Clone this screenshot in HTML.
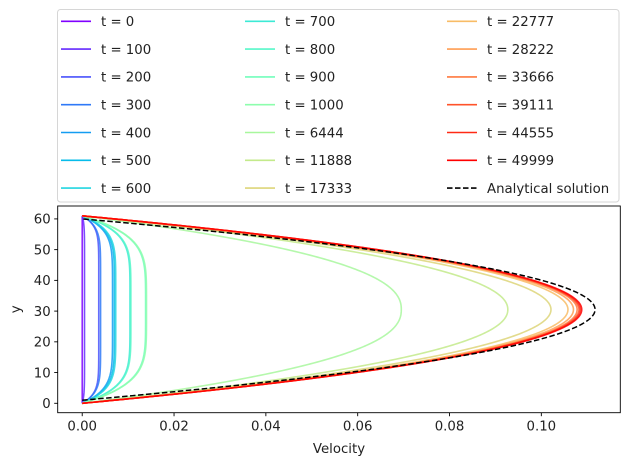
<!DOCTYPE html>
<html><head><meta charset="utf-8"><style>
body{margin:0;background:#fff}
svg{display:block;font-family:"DejaVu Sans","Liberation Sans",sans-serif}
</style></head><body>
<svg id="c" width="630" height="466" viewBox="0 0 630 466" xmlns="http://www.w3.org/2000/svg">
<rect x="0" y="0" width="630" height="466" fill="#fff"/>
<g id="plot"></g>
<g id="axes"></g>
<g id="legend"></g>
</svg>
<script>
const times = [0,100,200,300,400,500,600,700,800,900,1000,6444,11888,17333,22777,28222,33666,39111,44555,49999];
const peakVelocity = [0,0.0005,0.0036,0.004,0.0066,0.007,0.0073,0.0104,0.0106,0.0138,0.014,0.0695,0.0927,0.1021,0.1058,0.107,0.1078,0.1082,0.1085,0.1088];
const profileExponent = [60,12,10,9,7,7,7,6,6,5,5,2.3,2.1,2.0,2.0,2.0,2.0,2.0,2.0,2.0];
const analyticalPeak = 0.1117;
const xTicks = [0,0.02,0.04,0.06,0.08,0.10];
const xTickLabels = ["0.00","0.02","0.04","0.06","0.08","0.10"];
const yTicks = [0,10,20,30,40,50,60];

const NS="http://www.w3.org/2000/svg";
const L=57.7,R=620.3,T=206,B=412.7;
const xmin=-0.00534,xmax=0.1172,ymin=-3.06,ymax=64.2;
const sx=v=>L+(v-xmin)/(xmax-xmin)*(R-L);
const sy=v=>B-(v-ymin)/(ymax-ymin)*(B-T);
function el(tag,attrs,parent){const e=document.createElementNS(NS,tag);for(const k in attrs)e.setAttribute(k,attrs[k]);parent.appendChild(e);return e;}
function rainbow(x){const c=v=>Math.round(255*Math.max(0,Math.min(1,v)));return `rgb(${c(Math.abs(2*x-0.5))},${c(Math.sin(Math.PI*x))},${c(Math.cos(Math.PI*x/2))})`;}
function profilePath(peak,p,lo,hi){const c=(lo+hi)/2,h=(hi-lo)/2;let d="";for(let i=0;i<=200;i++){const y=lo+(hi-lo)*i/200;const r=Math.abs((y-c)/h);const u=peak*(1-Math.pow(r,p));d+=(i?"L":"M")+sx(u).toFixed(2)+","+sy(y).toFixed(2);}return d;}

const plot=document.getElementById('plot');
el('clipPath',{id:'clip'},plot);
el('rect',{x:L,y:T,width:R-L,height:B-T},plot.lastChild);
const g=el('g',{'clip-path':'url(#clip)'},plot);
times.forEach((t,i)=>{
  const p=el('path',{d:profilePath(peakVelocity[i],profileExponent[i],0,61),fill:'none',stroke:rainbow(i/(times.length-1)),'stroke-width':1.6,'stroke-opacity':0.85},g);
  
  
});
const an=el('path',{d:profilePath(analyticalPeak,2,1,60),fill:'none',stroke:'#000','stroke-width':1.5,'stroke-dasharray':'5.5,2.5'},g);



const ax=document.getElementById('axes');
const frame=el('rect',{x:L,y:T,width:R-L,height:B-T,fill:'none',stroke:'#000','stroke-width':0.9},ax);


xTicks.forEach((v,i)=>{
  el('line',{x1:sx(v),x2:sx(v),y1:B,y2:B+3.5,stroke:'#000','stroke-width':0.9},ax);
  const tx=el('text',{x:sx(v),y:B+18,'text-anchor':'middle','font-size':'13.3px',fill:'#222'},ax);
  tx.textContent=xTickLabels[i];
  
  
});
yTicks.forEach(v=>{
  el('line',{x1:L,x2:L-3.5,y1:sy(v),y2:sy(v),stroke:'#000','stroke-width':0.9},ax);
  const tx=el('text',{x:L-7,y:sy(v)+4.8,'text-anchor':'end','font-size':'13.3px',fill:'#222'},ax);
  tx.textContent=v;
  
  
});
const xt=el('text',{x:(L+R)/2,y:453,'text-anchor':'middle','font-size':'13.3px',fill:'#222'},ax);
xt.textContent='Velocity';


const yt=el('text',{x:0,y:0,'text-anchor':'middle','font-size':'13.3px',fill:'#222',transform:`translate(20,${(T+B)/2}) rotate(-90)`},ax);
yt.textContent='y';



const lg=document.getElementById('legend');
const box=el('rect',{x:57.5,y:9.5,width:561.5,height:192.5,rx:3,fill:'#fff','fill-opacity':0.8,stroke:'#d6d6d6','stroke-width':1},lg);


const colX=[61,245,447],rowY0=21.3,rowDy=27.8;
const entries=times.map((t,i)=>({label:'t = '+t,color:rainbow(i/(times.length-1)),dash:null}));
entries.push({label:'Analytical solution',color:'#000',dash:'5.5,2.5'});
entries.forEach((e,k)=>{
  const col=Math.floor(k/7),row=k%7,y=rowY0+row*rowDy,x=colX[col];
  const grp=el('g',{},lg);
  
  
  const ln=el('line',{x1:x,x2:x+30,y1:y,y2:y,stroke:e.color,'stroke-width':1.6},grp);
  if(e.dash)ln.setAttribute('stroke-dasharray',e.dash);
  const tx=el('text',{x:x+40,y:y+4.8,'font-size':'13.3px',fill:'#222'},grp);
  tx.textContent=e.label;
});
</script>
</body></html>
